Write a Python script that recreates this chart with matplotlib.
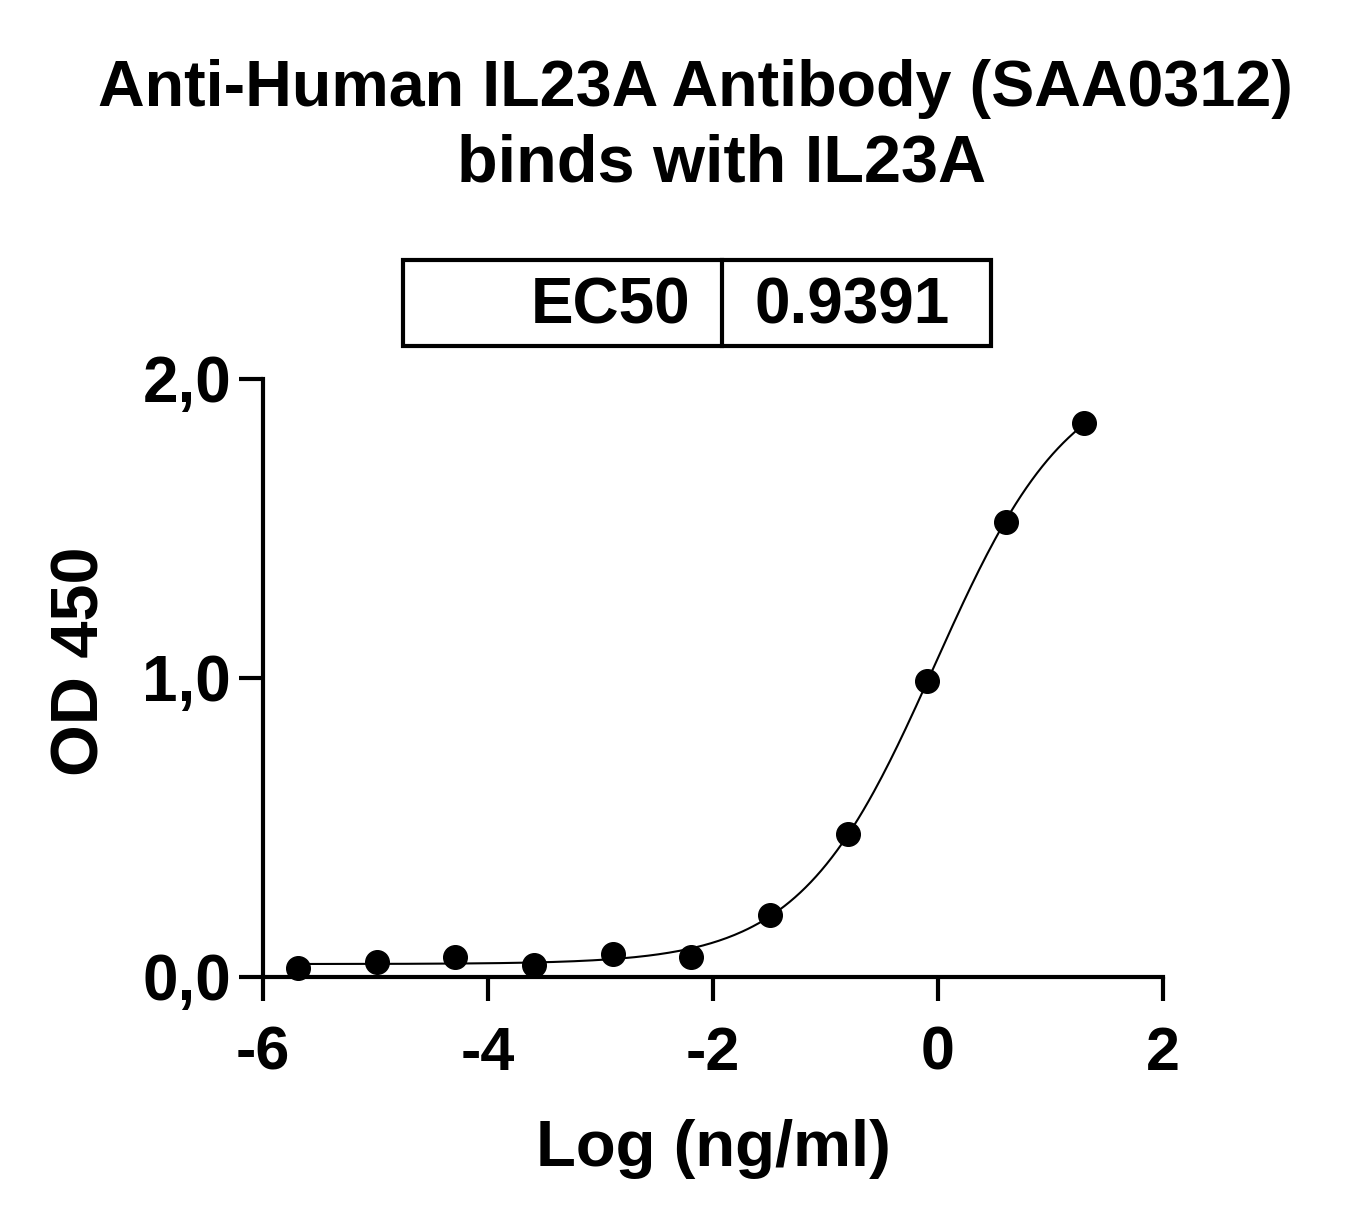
import numpy as np
import matplotlib
matplotlib.use("Agg")
import matplotlib.pyplot as plt
from matplotlib.patches import Rectangle
from matplotlib.lines import Line2D

plt.rcParams['font.family'] = ['Liberation Sans', 'DejaVu Sans']
plt.rcParams['font.weight'] = 'bold'

# data
log_conc = [-5.689, -4.990, -4.291, -3.592, -2.893, -2.194, -1.495, -0.796, -0.097, 0.602, 1.301]
od450 = [0.030, 0.050, 0.067, 0.040, 0.077, 0.067, 0.207, 0.478, 0.990, 1.520, 1.853]
ec50 = 0.9391
x_ticks = [-6, -4, -2, 0, 2]
y_ticks = [0.0, 1.0, 2.0]
y_tick_labels = ["0,0", "1,0", "2,0"]


def fit_4pl(x, y, log_ec50):
    # bottom/top are linear once hill is fixed, so scan hill and solve lstsq
    x = np.asarray(x)
    y = np.asarray(y)
    best = None
    for hill in np.linspace(0.5, 2.5, 401):
        s = 1.0 / (1.0 + 10 ** ((log_ec50 - x) * hill))
        A = np.column_stack([1 - s, s])
        coef, res, _, _ = np.linalg.lstsq(A, y, rcond=None)
        err = np.sum((A @ coef - y) ** 2)
        if best is None or err < best[0]:
            best = (err, coef[0], coef[1], hill)
    return best[1:]


def createPlot():
    fig = plt.figure(figsize=(13.68, 12.24), dpi=100)
    ax = fig.add_axes([0.1923, 0.2018, 0.6578, 0.4886])

    bottom, top, hill = fit_4pl(log_conc, od450, np.log10(ec50))
    xs = np.linspace(min(log_conc), max(log_conc), 300)
    ys = bottom + (top - bottom) / (1 + 10 ** ((np.log10(ec50) - xs) * hill))
    ax.plot(xs, ys, color='black', lw=1.5, zorder=2)
    ax.plot(log_conc, od450, 'o', color='black', ms=17, zorder=3, clip_on=False)

    ax.set_xlim(-6, 2)
    ax.set_ylim(0, 2)
    ax.set_xticks(x_ticks)
    ax.set_xticklabels([str(t) for t in x_ticks])
    ax.set_yticks(y_ticks)
    ax.set_yticklabels(y_tick_labels)
    for side in ['top', 'right']:
        ax.spines[side].set_visible(False)
    for side in ['left', 'bottom']:
        ax.spines[side].set_linewidth(3)
    ax.tick_params(axis='both', direction='out', length=17, width=3)
    ax.tick_params(axis='x', labelsize=44, pad=18)
    ax.tick_params(axis='y', labelsize=46, pad=6)
    for lab in ax.get_xticklabels() + ax.get_yticklabels():
        lab.set_fontweight('bold')

    ax.set_xlabel("Log (ng/ml)", fontsize=47, fontweight='bold', labelpad=26)
    ax.set_ylabel("OD 450", fontsize=48, fontweight='bold')
    ax.yaxis.set_label_coords(-0.167, 0.528)

    fig.text(695 / 1368, 1 - 106 / 1224, "Anti-Human IL23A Antibody (SAA0312)",
             ha='center', va='baseline', fontsize=46.5, fontweight='bold')
    fig.text(722 / 1368, 1 - 181 / 1224, "binds with IL23A",
             ha='center', va='baseline', fontsize=48, fontweight='bold')

    # EC50 box
    x0, x1, xm = 403 / 1368, 991 / 1368, 722 / 1368
    y0, y1 = 1 - 346 / 1224, 1 - 260 / 1224
    fig.patches.append(Rectangle((x0, y0), x1 - x0, y1 - y0, transform=fig.transFigure,
                                 fill=False, edgecolor='black', lw=3))
    fig.lines.append(Line2D([xm, xm], [y0, y1], transform=fig.transFigure,
                            color='black', lw=3))
    fig.text(690 / 1368, 1 - 324 / 1224, "EC50", ha='right', va='baseline',
             fontsize=46, fontweight='bold')
    fig.text(852 / 1368, 1 - 324 / 1224, "0.9391", ha='center', va='baseline',
             fontsize=46, fontweight='bold')

    fig.savefig("out.png", dpi=100, facecolor='white')


def main():
    createPlot()


if __name__ == "__main__":
    main()
